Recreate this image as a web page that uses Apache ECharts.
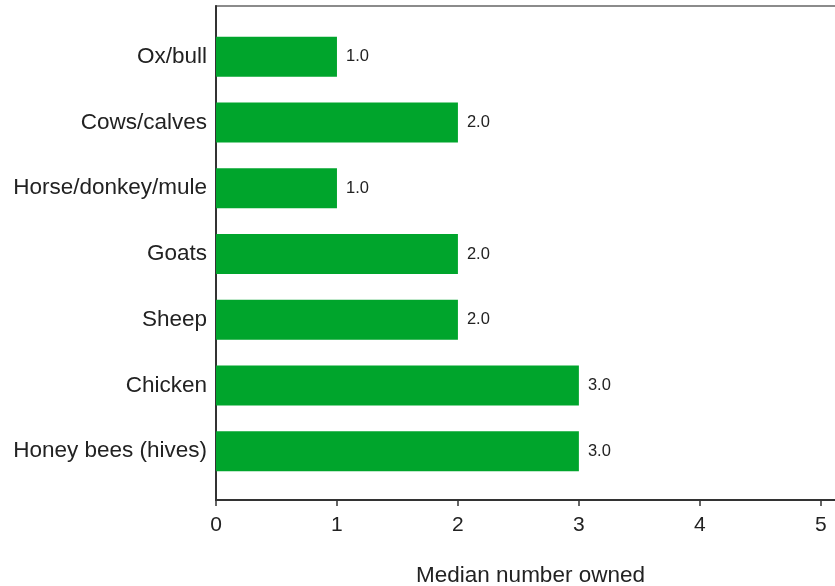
<!DOCTYPE html>
<html>
<head>
<meta charset="utf-8">
<script src="https://cdn.jsdelivr.net/npm/echarts@6/dist/echarts.min.js"></script>
<style>html,body{margin:0;padding:0;background:#fff}#c{width:835px;height:586px}</style>
</head>
<body>
<div id="c"></div>
<script>
const categories = ["Ox/bull","Cows/calves","Horse/donkey/mule","Goats","Sheep","Chicken","Honey bees (hives)"];
const values = [1.0, 2.0, 1.0, 2.0, 2.0, 3.0, 3.0];
const xTicks = [0, 1, 2, 3, 4, 5];
const xTitle = "Median number owned";

const FONT = "Liberation Sans, Arial, sans-serif";
const chart = echarts.init(document.getElementById('c'), null, {renderer: 'canvas'});
chart.setOption({
  animation: false,
  grid: [
    {left: 216, width: 629, top: 6, height: 494, show: true, borderColor: '#666', borderWidth: 1.5,
     containLabel: false, outerBoundsMode: 'none'},
    {left: 216, width: 629, top: 24, height: 460, containLabel: false, outerBoundsMode: 'none'}
  ],
  xAxis: [
    {gridIndex: 0, type: 'value', min: 0, max: 5.2, interval: 1,
     axisLine: {show: true, lineStyle: {color: '#333', width: 2}},
     axisTick: {show: true, length: 6, lineStyle: {color: '#333', width: 1.5}},
     axisLabel: {fontSize: 21, color: '#222', fontFamily: FONT, margin: 15,
       formatter: v => xTicks.includes(v) ? String(v) : ''},
     splitLine: {show: false},
     name: xTitle, nameLocation: 'middle', nameGap: 64,
     nameTextStyle: {fontSize: 22.5, color: '#222', fontFamily: FONT}},
    {gridIndex: 1, type: 'value', min: 0, max: 5.2, show: false}
  ],
  yAxis: [
    {gridIndex: 0, type: 'value', min: 0, max: 1, show: true,
     axisLine: {show: true, onZero: false, lineStyle: {color: '#333', width: 2}},
     axisTick: {show: false}, axisLabel: {show: false}, splitLine: {show: false}},
    {gridIndex: 1, type: 'category', data: categories, inverse: true,
     axisLine: {show: false}, axisTick: {show: false},
     axisLabel: {fontSize: 22.5, color: '#222', fontFamily: FONT, margin: 9}}
  ],
  series: [{
    type: 'bar', xAxisIndex: 1, yAxisIndex: 1, data: values,
    barWidth: 40,
    itemStyle: {color: '#00a52c'},
    label: {show: true, position: 'right', distance: 9, fontSize: 16.5, color: '#222', fontFamily: FONT,
      formatter: p => p.value.toFixed(1)}
  }]
});
</script>
</body>
</html>
